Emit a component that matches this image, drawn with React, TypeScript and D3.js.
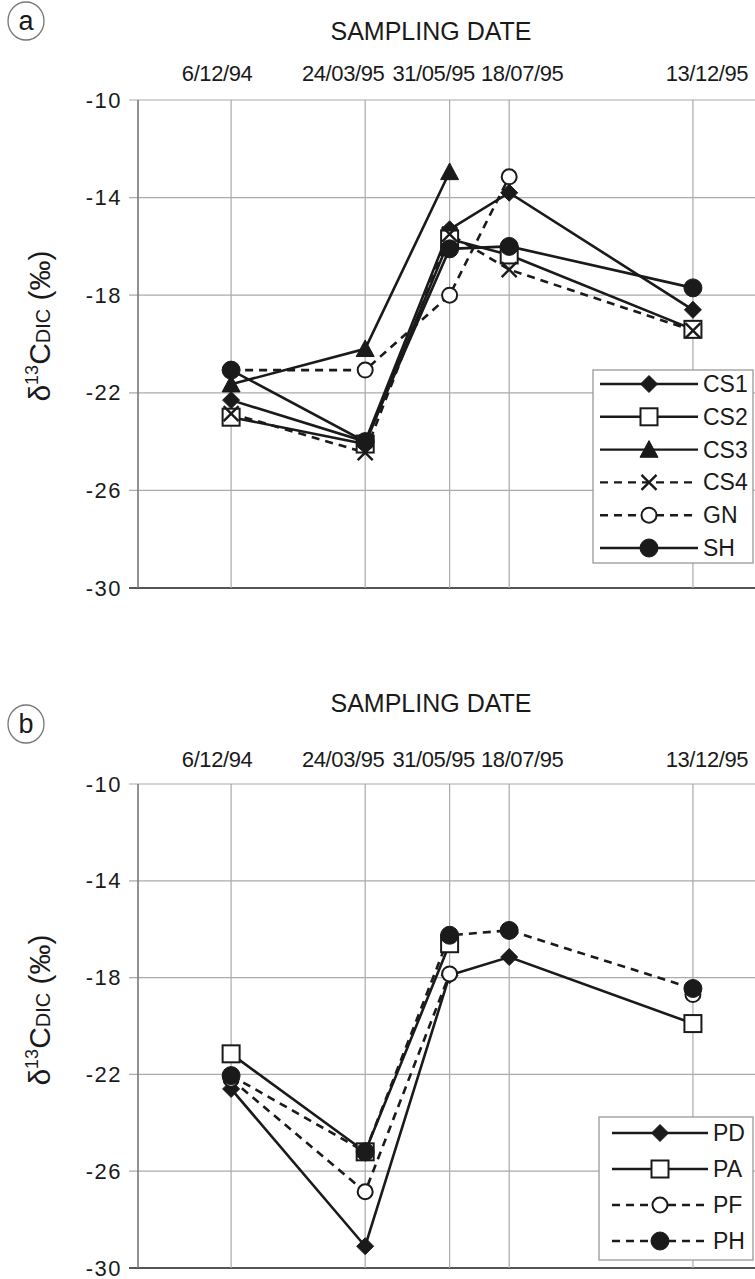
import React from "react";
import * as d3 from "d3";

// ---------- DATA ----------
const sampleDates = ["1994-12-06", "1995-03-24", "1995-05-31", "1995-07-18", "1995-12-13"];
const dateLabels = ["6/12/94", "24/03/95", "31/05/95", "18/07/95", "13/12/95"];
const yTicks = [-10, -14, -18, -22, -26, -30];

const namesA = ["CS1", "CS2", "CS3", "CS4", "GN", "SH"];
const cs1 = [-22.3, -24.0, -15.3, -13.8, -18.6];
const cs2 = [-23.0, -24.1, -15.7, -16.35, -19.4];
const cs3 = [-21.65, -20.2, -12.95, null, null];
const cs4 = [-22.85, -24.45, -15.5, -16.95, -19.45];
const gn = [-21.07, -21.07, -18.0, -13.15, null];
const sh = [-21.07, -24.0, -16.1, -16.0, -17.7];

const namesB = ["PD", "PA", "PF", "PH"];
const pd = [-22.6, -29.1, -17.9, -17.15, -19.9];
const pa = [-21.15, -25.2, -16.6, null, -19.9];
const pf = [-22.2, -26.85, -17.85, null, -18.7];
const ph = [-22.05, -25.2, -16.25, -16.05, -18.45];

// ---------- STYLE ----------
type Marker = "diamond" | "square" | "triangle" | "x" | "ocircle" | "fcircle";
const stylesA: { marker: Marker; dashed: boolean }[] = [
  { marker: "diamond", dashed: false },
  { marker: "square", dashed: false },
  { marker: "triangle", dashed: false },
  { marker: "x", dashed: true },
  { marker: "ocircle", dashed: true },
  { marker: "fcircle", dashed: false },
];
const stylesB: { marker: Marker; dashed: boolean }[] = [
  { marker: "diamond", dashed: false },
  { marker: "square", dashed: false },
  { marker: "ocircle", dashed: true },
  { marker: "fcircle", dashed: true },
];

const W = 755;
const H = 1279;
const FONT = "'Liberation Sans', Arial, Helvetica, sans-serif";
const INK = "#1a1a1a";
const parse = d3.timeParse("%Y-%m-%d");
const dates = sampleDates.map((s) => parse(s) as Date);

const x = d3
  .scaleTime()
  .domain([parse("1994-09-22") as Date, parse("1996-02-01") as Date])
  .range([138, W]);

// label offsets (labels are nudged in the original)
const labelDx = [-14, -22, -16, 13, 14];

function MarkerShape({ type, cx, cy }: { type: Marker; cx: number; cy: number }) {
  const sw = 2;
  switch (type) {
    case "diamond": {
      const r = 8.5;
      return (
        <path
          d={`M${cx},${cy - r}L${cx + r},${cy}L${cx},${cy + r}L${cx - r},${cy}Z`}
          fill={INK}
          stroke={INK}
          strokeWidth={1}
        />
      );
    }
    case "square": {
      const s = 8.5;
      return (
        <rect x={cx - s} y={cy - s} width={2 * s} height={2 * s} fill="#fff" stroke={INK} strokeWidth={sw} />
      );
    }
    case "triangle": {
      const r = 9;
      return (
        <path
          d={`M${cx},${cy - r}L${cx + r},${cy + r * 0.85}L${cx - r},${cy + r * 0.85}Z`}
          fill={INK}
          stroke={INK}
          strokeWidth={1}
        />
      );
    }
    case "x": {
      const r = 7.5;
      return (
        <path
          d={`M${cx - r},${cy - r}L${cx + r},${cy + r}M${cx + r},${cy - r}L${cx - r},${cy + r}`}
          stroke={INK}
          strokeWidth={2.4}
          fill="none"
        />
      );
    }
    case "ocircle":
      return <circle cx={cx} cy={cy} r={7.5} fill="#fff" stroke={INK} strokeWidth={sw} />;
    case "fcircle":
      return <circle cx={cx} cy={cy} r={9} fill={INK} stroke={INK} strokeWidth={1} />;
  }
  return null;
}

interface PanelProps {
  top: number;
  bottom: number;
  letter: string;
  letterCy: number;
  titleY: number;
  datesY: number;
  names: string[];
  series: (number | null)[][];
  styles: { marker: Marker; dashed: boolean }[];
  legend: { x: number; y: number; w: number; h: number; row0: number; dy: number; l0: number; l1: number; tx: number };
}

function Panel(p: PanelProps) {
  const y = d3.scaleLinear().domain([-10, -30]).range([p.top, p.bottom]);
  const line = d3
    .line<number | null>()
    .defined((d) => d != null)
    .x((_, i) => x(dates[i]))
    .y((d) => y(d as number));
  const lg = p.legend;
  const titleCy = p.top + 226;
  return (
    <g>
      {/* panel letter */}
      <ellipse cx={26} cy={p.letterCy} rx={18} ry={19} fill="none" stroke="#777" strokeWidth={1.3} />
      <text x={26} y={p.letterCy + 9} textAnchor="middle" fontSize={27} fontFamily={FONT} fill={INK}>
        {p.letter}
      </text>
      {/* axis title */}
      <text x={431} y={p.titleY} textAnchor="middle" fontSize={25} fontFamily={FONT} fill={INK}>
        SAMPLING DATE
      </text>
      {dates.map((d, i) => (
        <text
          key={i}
          x={x(d) + labelDx[i]}
          y={p.datesY}
          textAnchor="middle"
          fontSize={22}
          fontFamily={FONT}
          fill={INK}
          letterSpacing={-0.4}
        >
          {dateLabels[i]}
        </text>
      ))}
      {/* grid */}
      {yTicks.map((t) => (
        <g key={t}>
          <line x1={129} x2={W} y1={y(t)} y2={y(t)} stroke={t === -30 ? "#555" : "#aaa"} strokeWidth={t === -30 ? 2 : 1.2} />
          <text
            x={122}
            y={y(t) + 7.5}
            textAnchor="end"
            fontSize={22}
            fontFamily={FONT}
            fill={INK}
            letterSpacing={1.5}
          >
            {String(t)}
          </text>
        </g>
      ))}
      {dates.map((d, i) => (
        <line key={i} x1={x(d)} x2={x(d)} y1={p.top} y2={p.bottom} stroke="#aaa" strokeWidth={1.2} />
      ))}
      <line x1={138} x2={138} y1={p.top} y2={p.bottom} stroke="#777" strokeWidth={1.6} />
      {/* y title */}
      <text
        transform={`translate(50,${titleCy}) rotate(-90)`}
        textAnchor="middle"
        fontSize={30}
        fontFamily={FONT}
        fill={INK}
      >
        δ
        <tspan fontSize={18} dy={-12}>
          13
        </tspan>
        <tspan fontSize={30} dy={12}>
          C
        </tspan>
        <tspan fontSize={20}>DIC</tspan>
        <tspan fontSize={30}> (‰)</tspan>
      </text>
      {/* series */}
      {p.series.map((s, k) => (
        <path
          key={"l" + k}
          d={line(s) || ""}
          fill="none"
          stroke={INK}
          strokeWidth={2.6}
          strokeDasharray={p.styles[k].dashed ? "8,6" : undefined}
        />
      ))}
      {p.series.map((s, k) => (
        <g key={"m" + k}>
          {s.map((v, i) =>
            v == null ? null : <MarkerShape key={i} type={p.styles[k].marker} cx={x(dates[i])} cy={y(v)} />
          )}
        </g>
      ))}
      {/* legend */}
      <rect x={lg.x} y={lg.y} width={lg.w} height={lg.h} fill="#fff" stroke="#999" strokeWidth={1.3} />
      {p.names.map((n, k) => {
        const ry = lg.row0 + k * lg.dy;
        const mx = (lg.l0 + lg.l1) / 2;
        return (
          <g key={n}>
            <line
              x1={lg.l0}
              x2={lg.l1}
              y1={ry}
              y2={ry}
              stroke={INK}
              strokeWidth={2.4}
              strokeDasharray={p.styles[k].dashed ? "8,6" : undefined}
            />
            <MarkerShape type={p.styles[k].marker} cx={mx} cy={ry} />
            <text x={lg.tx} y={ry + 8} fontSize={23} fontFamily={FONT} fill={INK}>
              {n}
            </text>
          </g>
        );
      })}
    </g>
  );
}

export default function App() {
  return (
    <svg
      width={W}
      height={H}
      style={{ position: "absolute", left: 0, top: 0, background: "#fff" }}
      xmlns="http://www.w3.org/2000/svg"
    >
      <rect width={W} height={H} fill="#fff" />
      <Panel
        top={100}
        bottom={588}
        letter="a"
        letterCy={21}
        titleY={40}
        datesY={81}
        names={namesA}
        series={[cs1, cs2, cs3, cs4, gn, sh]}
        styles={stylesA}
        legend={{ x: 593, y: 370, w: 160, h: 193, row0: 384, dy: 32.8, l0: 600, l1: 698, tx: 703 }}
      />
      <Panel
        top={784}
        bottom={1268}
        letter="b"
        letterCy={724}
        titleY={712}
        datesY={767}
        names={namesB}
        series={[pd, pa, pf, ph]}
        styles={stylesB}
        legend={{ x: 599, y: 1117, w: 154, h: 143, row0: 1133, dy: 36, l0: 612, l1: 708, tx: 713 }}
      />
    </svg>
  );
}
